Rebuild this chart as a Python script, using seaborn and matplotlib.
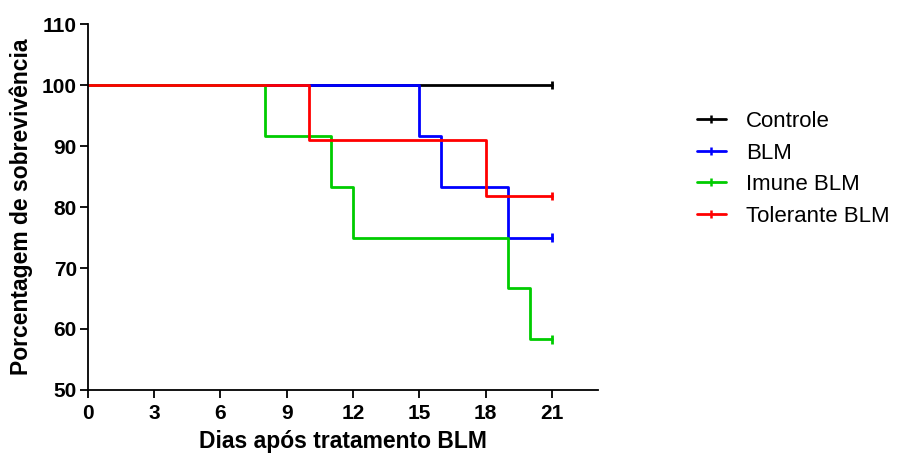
import matplotlib
matplotlib.use('Agg')
import matplotlib.pyplot as plt
from matplotlib.lines import Line2D
import seaborn as sns
import pandas as pd

# survival step data (day, % survival) at each change point
groups = ['Controle', 'BLM', 'Imune BLM', 'Tolerante BLM']
colors = ['#000000', '#0000ff', '#00cc00', '#ff0000']

controle_days = [0, 21]
controle_surv = [100, 100]

blm_days = [0, 15, 16, 19, 21]
blm_surv = [100, 91.67, 83.33, 75, 75]

imune_days = [0, 8, 11, 12, 19, 20, 21]
imune_surv = [100, 91.67, 83.33, 75, 66.67, 58.33, 58.33]

toler_days = [0, 10, 18, 21]
toler_surv = [100, 90.91, 81.82, 81.82]

x_ticks = [0, 3, 6, 9, 12, 15, 18, 21]
y_ticks = [50, 60, 70, 80, 90, 100, 110]

rows = []
for g, d, s in zip(groups,
                   [controle_days, blm_days, imune_days, toler_days],
                   [controle_surv, blm_surv, imune_surv, toler_surv]):
    for dd, ss in zip(d, s):
        rows.append({'dia': dd, 'surv': ss, 'grupo': g})
df = pd.DataFrame(rows)
ends = df.groupby('grupo', sort=False).tail(1)

sns.set_style('ticks')
plt.rcParams['font.family'] = ['Liberation Sans', 'DejaVu Sans']
plt.rcParams['text.color'] = 'black'
plt.rcParams['axes.labelcolor'] = 'black'
plt.rcParams['xtick.color'] = 'black'
plt.rcParams['ytick.color'] = 'black'
plt.rcParams['axes.edgecolor'] = 'black'

fig = plt.figure(figsize=(8.97, 4.54), dpi=100)
ax = fig.add_axes([0.098, 0.141, 0.569, 0.806])

palette = dict(zip(groups, colors))
sns.lineplot(data=df, x='dia', y='surv', hue='grupo', palette=palette,
             estimator=None, drawstyle='steps-post', linewidth=2.0,
             legend=False, ax=ax)
sns.scatterplot(data=ends, x='dia', y='surv', hue='grupo', palette=palette,
                marker='|', s=40, linewidth=2.0, legend=False, ax=ax, zorder=3)

ax.set_xlim(0, 23.1)
ax.set_ylim(50, 110)
ax.set_xticks(x_ticks)
ax.set_yticks(y_ticks)
ax.tick_params(axis='both', direction='out', length=6, width=1.3,
               labelsize=15, pad=2)
ax.tick_params(axis='x', pad=4)
for lab in ax.get_xticklabels() + ax.get_yticklabels():
    lab.set_fontweight('bold')
for sp in ['left', 'bottom']:
    ax.spines[sp].set_linewidth(1.3)
sns.despine(ax=ax)

ax.set_xlabel('Dias após tratamento BLM', fontsize=16.5, fontweight='bold', labelpad=5)
ax.set_ylabel('Porcentagem de sobrevivência', fontsize=16.5, fontweight='bold', labelpad=6)

handles = [Line2D([0], [0], color=c, lw=2.0, marker='|', markersize=6,
                  markeredgewidth=1.8) for c in colors]
fig.legend(handles, groups, loc='center left', bbox_to_anchor=(0.777, 0.628),
           bbox_transform=fig.transFigure, frameon=False, fontsize=16,
           handlelength=1.3, handletextpad=0.9, labelspacing=0.47,
           borderpad=0, borderaxespad=0)

fig.savefig('out.png', dpi=100)
